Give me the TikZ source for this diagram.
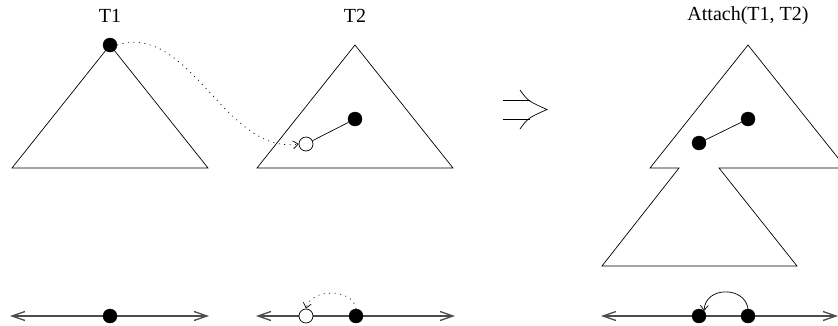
\documentclass[tikz,border=0pt]{standalone}
\usepackage{fontspec}
\setmainfont{Liberation Serif}
\usetikzlibrary{arrows.meta}

\begin{document}
\begin{tikzpicture}[
  x=1pt, y=-1pt,
  font=\fontsize{20}{24}\selectfont,
  vertex/.style={circle, fill=black, draw=black, inner sep=0pt, minimum size=14pt},
  hollow/.style={circle, fill=white, draw=black, line width=0.7pt, inner sep=0pt, minimum size=14pt},
  edge/.style={line width=0.7pt},
  move/.style={line width=0.7pt, dash pattern=on 1pt off 4.5pt, -{Straight Barb[length=5pt,width=8pt]}},
  axis/.style={black!70, line width=1.3pt, {Straight Barb[length=13pt,width=9pt]}-{Straight Barb[length=13pt,width=9pt]}}
]
\useasboundingbox (0,0) rectangle (838,325);

% labels
\node (lt1) at (110,16) {T1};
\node (lt2) at (355,16) {T2};
\node (lat) at (748,16) {Attach(T1, T2)};

% the two trees
\draw[edge] (12,168) -- (110,45) -- (208,168) -- cycle;
\draw[edge] (257,168) -- (355,45) -- (453,168) -- cycle;
\node[vertex] (r1) at (110,45) {};
\node[vertex] (v2) at (355,119) {};
\node[hollow] (h2) at (306,144) {};
\draw[edge] (h2) -- (v2);
\draw[move] (r1.east) .. controls (190,22) and (225,155) .. (h2.west);

% implies
\draw[edge] (503,100) -- (530,100);
\draw[edge] (503,119) -- (530,119);
\draw[edge] (520,90) .. controls (528,101) .. (547,109.5) .. controls (528,118) .. (520,129);

% attached tree
\draw[edge] (650,168) -- (679,168) -- (602,266) -- (797,266) -- (719,168)
  -- (846,168) -- (748,45) -- cycle;
\node[vertex] (ra) at (699,143) {};
\node[vertex] (va) at (748,119) {};
\draw[edge] (ra) -- (va);

% orders below
\coordinate (a1) at (10,316);
\coordinate (b1) at (209,316);
\draw[axis] (a1) -- (b1);
\node[vertex] (n1) at (110,316) {};

\coordinate (a2) at (256,316);
\coordinate (b2) at (455,316);
\draw[axis] (a2) -- (b2);
\node[hollow] (n2a) at (306,316) {};
\node[vertex] (n2b) at (356,316) {};
\draw[move] (n2b.north) .. controls (353,288) and (311,288) .. (n2a.north);

\coordinate (a3) at (601,316);
\coordinate (b3) at (838,316);
\draw[axis] (a3) -- (b3);
\node[vertex] (n3a) at (699,316) {};
\node[vertex] (n3b) at (748,316) {};
\draw[edge, -{Straight Barb[length=5pt,width=8pt]}] (n3b.north) .. controls (745,286) and (705,286) .. (n3a.north east);
\end{tikzpicture}
\end{document}
